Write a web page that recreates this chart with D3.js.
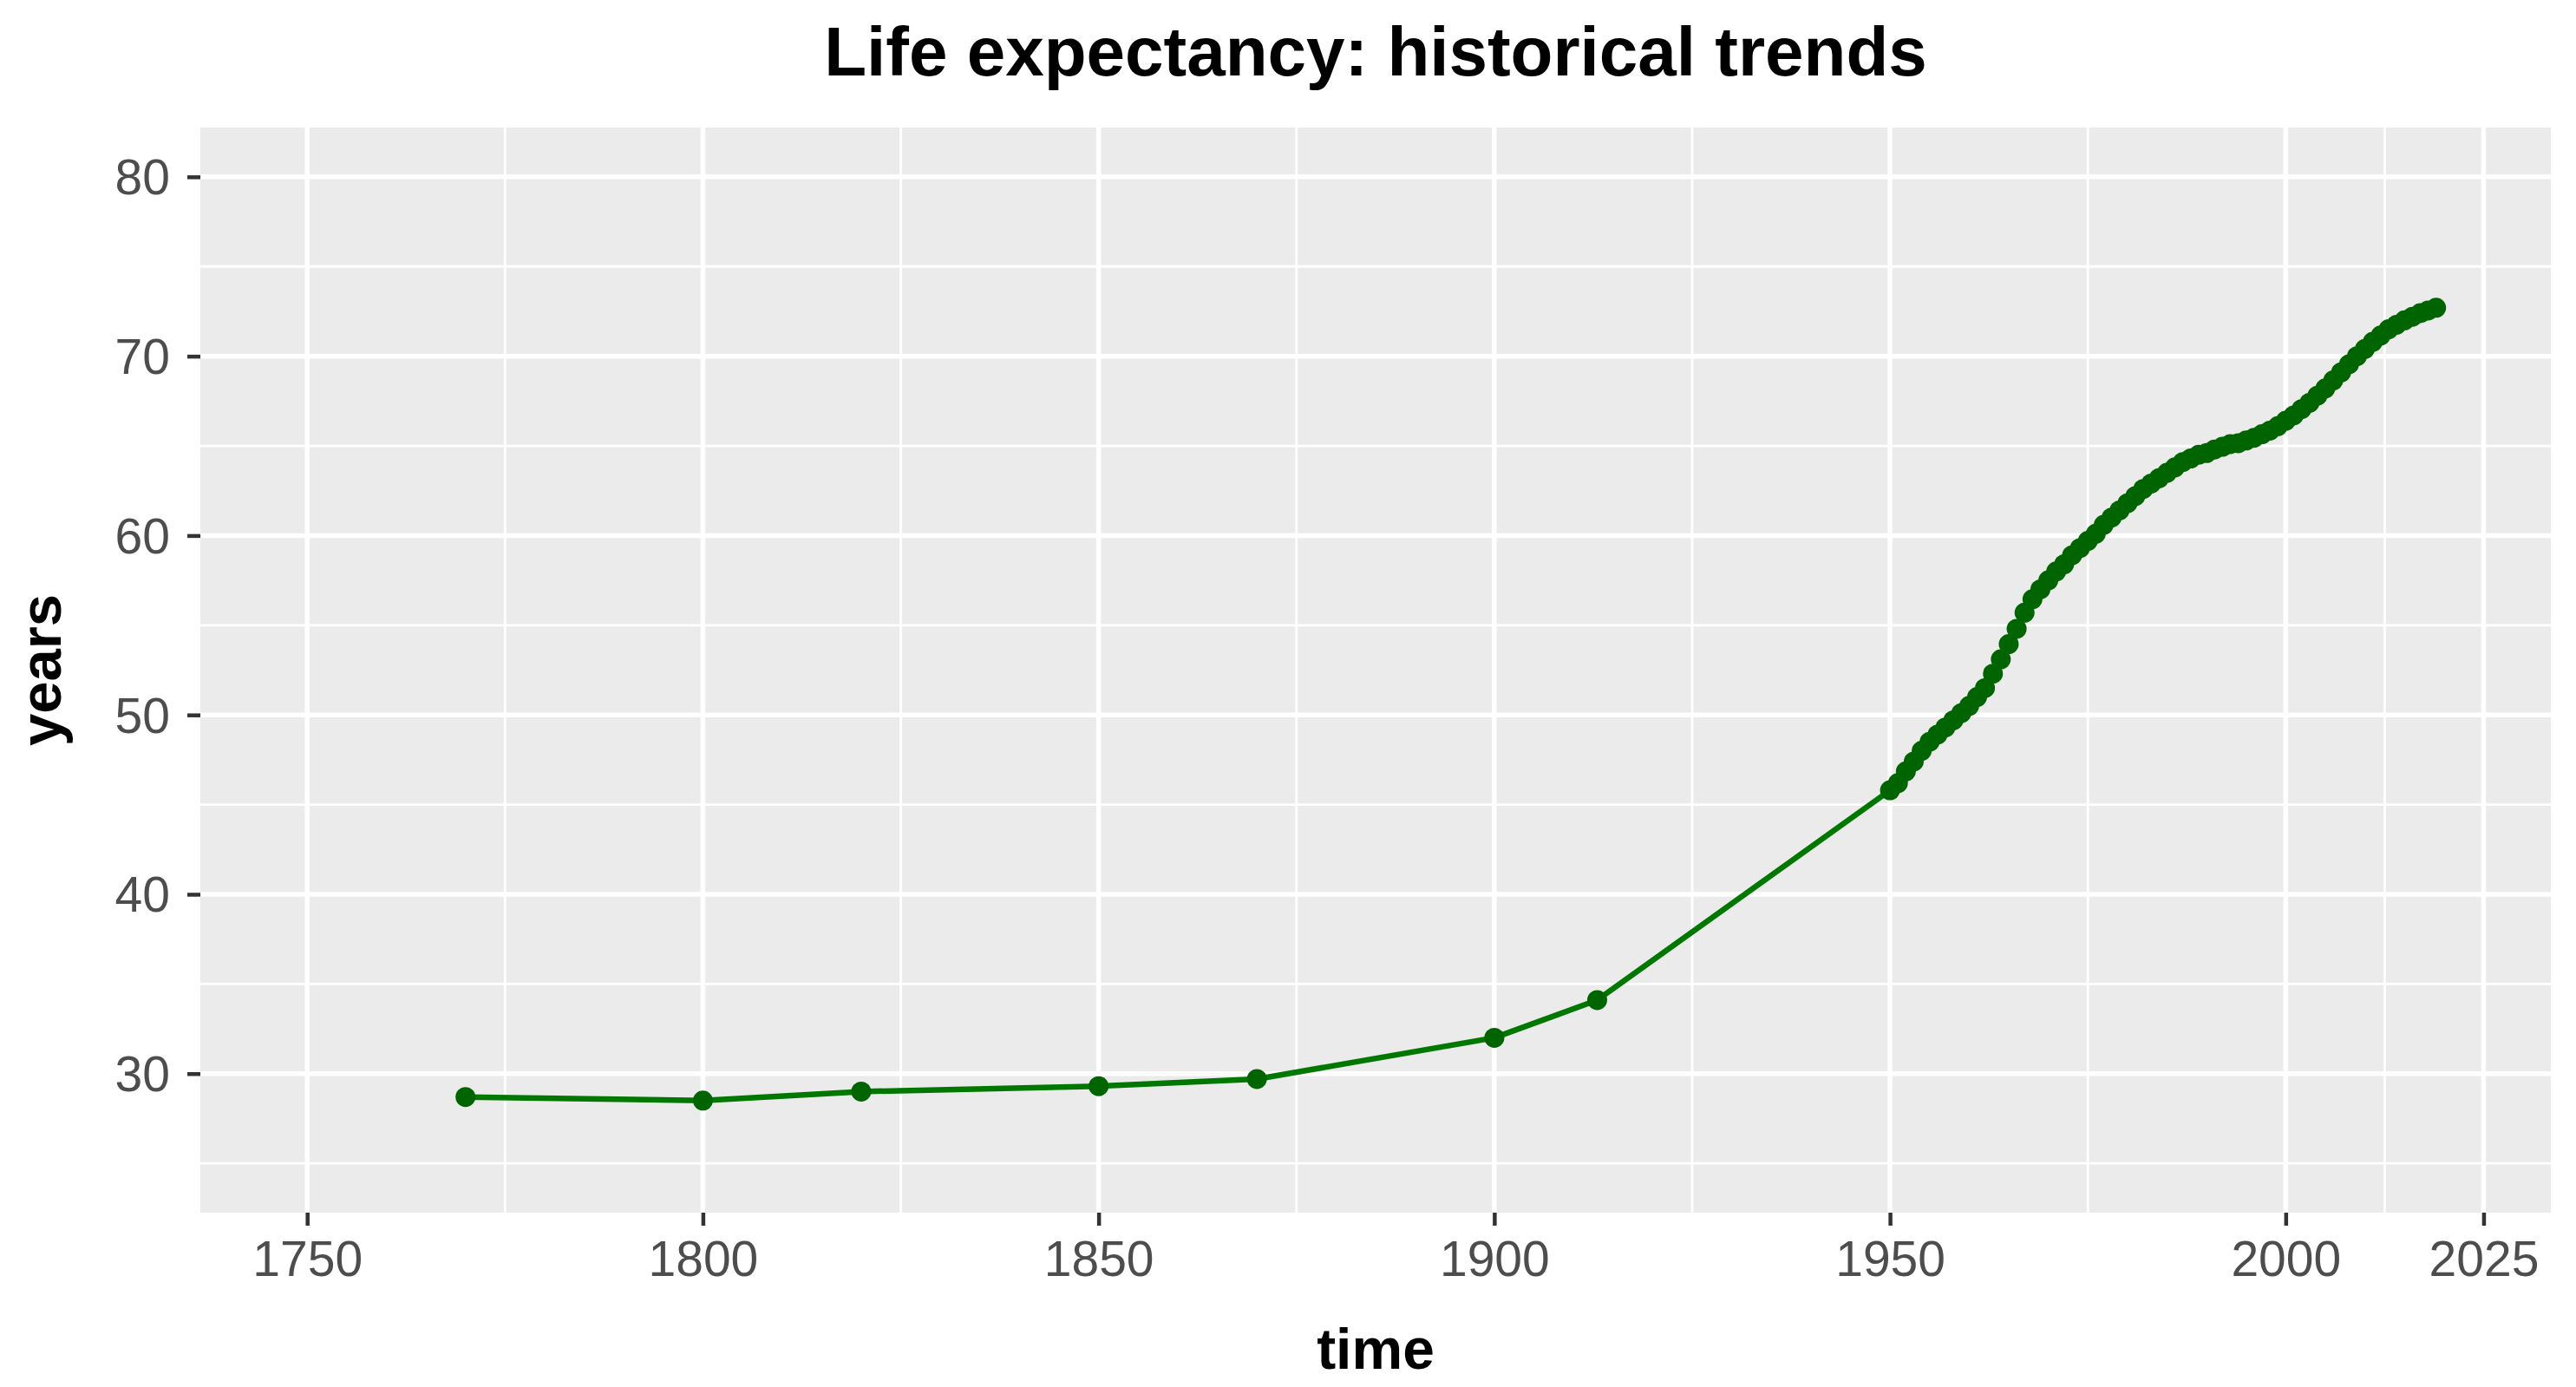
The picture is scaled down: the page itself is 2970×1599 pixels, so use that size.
<!DOCTYPE html>
<html>
<head>
<meta charset="utf-8">
<script src="https://cdn.jsdelivr.net/npm/d3@7"></script>
<style>
  html, body { margin: 0; padding: 0; background: #ffffff; }
  svg { display: block; }
</style>
</head>
<body>
<div id="chart"></div>
<script>
// ---- Data ----
const historicYears  = [1770, 1800, 1820, 1850, 1870, 1900, 1913];
const historicValues = [28.7, 28.5, 29.0, 29.3, 29.7, 32.0, 34.1];

const modernYears = [
  1950,1951,1952,1953,1954,1955,1956,1957,1958,1959,
  1960,1961,1962,1963,1964,1965,1966,1967,1968,1969,
  1970,1971,1972,1973,1974,1975,1976,1977,1978,1979,
  1980,1981,1982,1983,1984,1985,1986,1987,1988,1989,
  1990,1991,1992,1993,1994,1995,1996,1997,1998,1999,
  2000,2001,2002,2003,2004,2005,2006,2007,2008,2009,
  2010,2011,2012,2013,2014,2015,2016,2017,2018,2019
];
const modernValues = [
  45.8,46.2,46.85,47.4,48.0,48.5,48.9,49.3,49.7,50.1,
  50.5,51.0,51.5,52.3,53.1,53.95,54.8,55.7,56.45,57.0,
  57.5,58.0,58.4,58.9,59.3,59.7,60.1,60.6,61.0,61.4,
  61.8,62.2,62.6,62.9,63.2,63.5,63.8,64.1,64.3,64.5,
  64.6,64.8,64.95,65.1,65.15,65.3,65.45,65.65,65.85,66.1,
  66.4,66.7,67.05,67.4,67.8,68.2,68.65,69.1,69.55,70.0,
  70.4,70.8,71.15,71.5,71.75,72.0,72.2,72.4,72.55,72.7
];

const xMajorTicks = [1750, 1800, 1850, 1900, 1950, 2000, 2025];
const xMinorTicks = [1775, 1825, 1875, 1925, 1975, 2012.5];
const yMajorTicks = [30, 40, 50, 60, 70, 80];
const yMinorTicks = [25, 35, 45, 55, 65, 75];

const titleText = "Life expectancy: historical trends";
const xTitle = "time";
const yTitle = "years";

// ---- Build table ----
const data = historicYears.map((t, i) => ({ time: t, years: historicValues[i] }))
  .concat(modernYears.map((t, i) => ({ time: t, years: modernValues[i] })));

// ---- Layout ----
const W = 2970, H = 1599;
const panel = { left: 231, right: 2941, top: 147, bottom: 1398 };
const FONT = "'Liberation Sans', Arial, Helvetica, sans-serif";

const x = d3.scaleLinear().domain([1736.5, 2033.5]).range([panel.left, panel.right]);
const y = d3.scaleLinear().domain([22.25, 82.75]).range([panel.bottom, panel.top]);

const svg = d3.select("#chart").append("svg")
  .attr("width", W).attr("height", H)
  .attr("viewBox", `0 0 ${W} ${H}`);

svg.append("rect").attr("width", W).attr("height", H).attr("fill", "#ffffff");

// panel background
svg.append("rect")
  .attr("x", panel.left).attr("y", panel.top)
  .attr("width", panel.right - panel.left)
  .attr("height", panel.bottom - panel.top)
  .attr("fill", "#EBEBEB");

const grid = svg.append("g");
// minor grid
grid.selectAll("line.xminor").data(xMinorTicks).enter().append("line")
  .attr("x1", d => x(d)).attr("x2", d => x(d))
  .attr("y1", panel.top).attr("y2", panel.bottom)
  .attr("stroke", "#ffffff").attr("stroke-width", 2.8);
grid.selectAll("line.yminor").data(yMinorTicks).enter().append("line")
  .attr("y1", d => y(d)).attr("y2", d => y(d))
  .attr("x1", panel.left).attr("x2", panel.right)
  .attr("stroke", "#ffffff").attr("stroke-width", 2.8);
// major grid
grid.selectAll("line.xmajor").data(xMajorTicks).enter().append("line")
  .attr("x1", d => x(d)).attr("x2", d => x(d))
  .attr("y1", panel.top).attr("y2", panel.bottom)
  .attr("stroke", "#ffffff").attr("stroke-width", 5.5);
grid.selectAll("line.ymajor").data(yMajorTicks).enter().append("line")
  .attr("y1", d => y(d)).attr("y2", d => y(d))
  .attr("x1", panel.left).attr("x2", panel.right)
  .attr("stroke", "#ffffff").attr("stroke-width", 5.5);

// ---- Axes via d3 axis generators ----
const xAxis = d3.axisBottom(x).tickValues(xMajorTicks).tickFormat(d3.format("d"))
  .tickSize(15).tickPadding(18);
const gx = svg.append("g").attr("transform", `translate(0,${panel.bottom})`).call(xAxis);
gx.select(".domain").remove();
gx.selectAll(".tick line").attr("stroke", "#333333").attr("stroke-width", 4.5);
gx.selectAll(".tick text")
  .attr("fill", "#4D4D4D")
  .style("font-family", FONT).style("font-size", "57px")
  .attr("dy", "0.71em");

const yAxis = d3.axisLeft(y).tickValues(yMajorTicks).tickFormat(d3.format("d"))
  .tickSize(15).tickPadding(20);
const gy = svg.append("g").attr("transform", `translate(${panel.left},0)`).call(yAxis);
gy.select(".domain").remove();
gy.selectAll(".tick line").attr("stroke", "#333333").attr("stroke-width", 4.5);
gy.selectAll(".tick text")
  .attr("fill", "#4D4D4D")
  .style("font-family", FONT).style("font-size", "57px")
  .attr("dy", "0.35em");

// ---- Data marks ----
const line = d3.line().x(d => x(d.time)).y(d => y(d.years));
svg.append("path").datum(data)
  .attr("d", line)
  .attr("fill", "none")
  .attr("stroke", "#007800")
  .attr("stroke-width", 6.5)
  .attr("stroke-linejoin", "round");

svg.append("g").selectAll("circle").data(data).enter().append("circle")
  .attr("cx", d => x(d.time))
  .attr("cy", d => y(d.years))
  .attr("r", 11.5)
  .attr("fill", "#006400");

// ---- Titles ----
const cx = (panel.left + panel.right) / 2;
svg.append("text")
  .attr("x", cx).attr("y", 87)
  .attr("text-anchor", "middle")
  .style("font-family", FONT).style("font-weight", "bold").style("font-size", "80px")
  .attr("fill", "#000000")
  .text(titleText);

svg.append("text")
  .attr("x", cx).attr("y", 1578)
  .attr("text-anchor", "middle")
  .style("font-family", FONT).style("font-weight", "bold").style("font-size", "66px")
  .attr("fill", "#000000")
  .text(xTitle);

const cy = (panel.top + panel.bottom) / 2;
svg.append("text")
  .attr("transform", `translate(70,${cy}) rotate(-90)`)
  .attr("text-anchor", "middle")
  .style("font-family", FONT).style("font-weight", "bold").style("font-size", "67px")
  .attr("fill", "#000000")
  .text(yTitle);
</script>
</body>
</html>
